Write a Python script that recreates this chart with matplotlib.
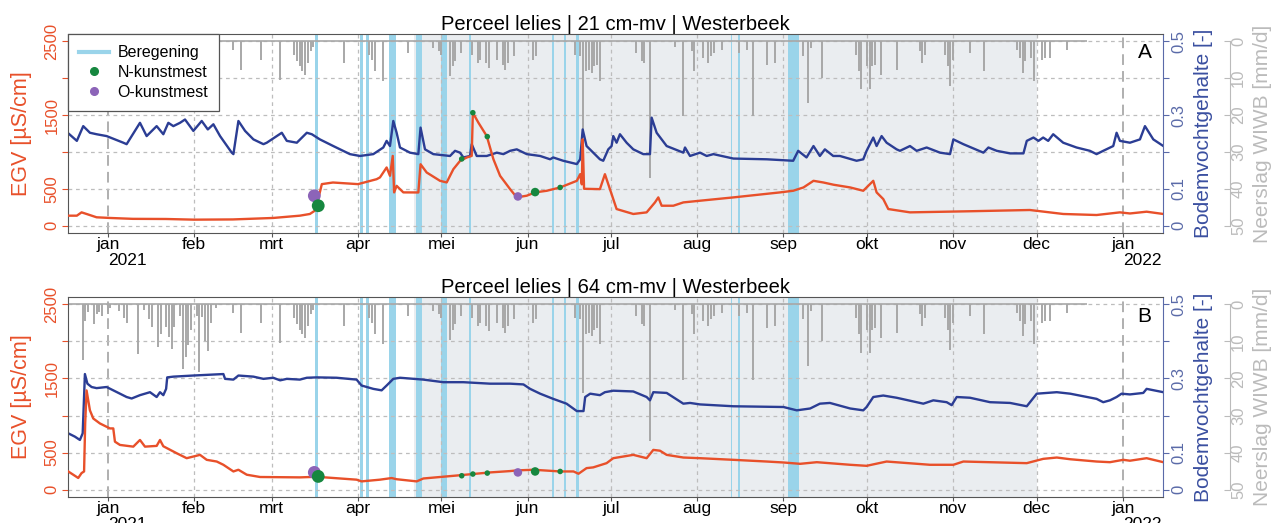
import numpy as np
import matplotlib
matplotlib.use('Agg')
import matplotlib.pyplot as plt
import matplotlib.dates as mdates
from matplotlib.lines import Line2D

plt.rcParams['font.family'] = ['Liberation Sans', 'DejaVu Sans']

# ── colours ───────────────────────────────────────────────
RED    = '#E8502A'
BLUE   = '#2B3D94'
IRR    = '#9AD4EA'
SEASON = '#EAEDF0'
RAIN   = '#A8A8A8'
GREEN  = '#16873F'
PURPLE = '#8C64B8'

# days counted from 2021-01-01
BASE = mdates.date2num(np.datetime64('2021-01-01'))
X_FROM, X_TO = -14.3, 379.5

MONTHS = np.arange('2021-01', '2022-02', dtype='datetime64[M]')
MONTH_NAMES = ['jan', 'feb', 'mrt', 'apr', 'mei', 'jun', 'jul', 'aug',
               'sep', 'okt', 'nov', 'dec', 'jan']

# growing season (shaded) and irrigation events (Beregening)
season_start, season_end = 110.3, 334.0
irr_start = [74.7, 90.9, 93.0, 101.3, 110.9, 120.0, 129.9, 159.8, 164.0, 168.5, 224.0, 226.7, 244.7]
irr_end   = [75.5, 91.7, 93.8, 103.7, 112.9, 121.9, 130.7, 160.6, 164.8, 169.3, 224.6, 227.5, 248.6]

# fertiliser applications
n_days = [75.7, 127.3, 131.3, 136.5, 153.7, 162.7]
n_size = [85, 16, 16, 16, 38, 16]
o_days = [74.3, 147.5]
o_size = [85, 38]

# daily precipitation WIWB [mm/d]
rain_days = [-9, -8, -7, -5, -4, -3, -2, 0, 1, 4, 6, 7, 11, 13, 15, 16, 18, 19, 21, 22,
             23, 24, 26, 27, 28, 29, 30, 32, 33, 34, 35, 36, 37, 39, 45, 48, 55, 62, 67, 68,
             69, 70, 71, 72, 73, 74, 85, 94, 95, 96, 99, 108, 117, 119, 120, 123, 124, 125, 127, 131,
             133, 134, 136, 137, 140, 142, 143, 144, 146, 153, 154, 168, 170, 171, 172, 173, 174, 175, 176, 177,
             190, 192, 193, 195, 204, 207, 210, 211, 214, 216, 217, 218, 221, 227, 230, 232, 237, 240, 250, 252,
             253, 257, 269, 270, 271, 273, 274, 275, 276, 278, 284, 292, 293, 294, 301, 302, 303, 304, 310, 315,
             327, 328, 329, 330, 332, 333, 336, 337, 339, 345]
rain_mm = [15.0, 4.5, 2.0, 5.4, 2.5, 2.0, 3.0, 2.7, 1.0, 1.8, 3.6, 5.0, 13.4, 1.5, 4.0, 6.0, 11.6, 8.0, 6.0, 8.9,
           12.0, 6.0, 3.0, 17.4, 14.3, 11.0, 7.0, 3.0, 18.3, 3.5, 9.8, 12.5, 5.0, 1.0, 2.3, 7.7, 5.0, 10.4, 3.6, 5.4,
           6.8, 8.1, 9.0, 5.9, 2.7, 1.4, 5.9, 3.6, 5.0, 8.1, 10.8, 3.2, 1.8, 2.7, 3.6, 9.5, 6.8, 5.4, 3.2, 3.6,
           5.9, 5.0, 5.9, 7.2, 5.0, 6.3, 7.7, 5.9, 4.0, 5.0, 4.0, 3.6, 4.0, 24.0, 8.0, 7.7, 8.6, 6.8, 6.3, 10.8,
           3.2, 5.4, 5.9, 37.0, 1.4, 20.3, 2.7, 8.1, 4.5, 5.9, 4.0, 3.2, 2.3, 3.2, 2.3, 20.3, 6.3, 5.9, 4.0, 16.7,
           1.8, 9.9, 3.6, 8.1, 13.0, 6.8, 13.0, 6.8, 6.3, 9.0, 7.7, 2.7, 5.9, 3.6, 3.6, 6.8, 12.2, 5.0, 3.2, 8.1,
           2.3, 4.5, 8.6, 5.4, 4.5, 10.8, 5.0, 4.5, 4.5, 2.3]
rain_end = 352

# ── panel A: 21 cm-mv ─────────────────────────────────────
a_egv_days = [-14.4, -11.1, -9.4, -7.6, -4.0, 0.8, 9, 21, 31, 45, 59.5, 69.1, 72.7, 74.5, 75.7, 77, 81, 90,
              96.7, 97.9, 100.3, 101.5, 102.5, 103, 103.9, 106.3, 111.7, 112.5, 114.7, 119.5, 121.9, 124.3,
              126.7, 129.1, 130.9, 131.3, 133.3, 136.3, 138.7, 141.1, 144.7, 147.1, 150.7, 153.7, 157.9,
              162.7, 168.7, 169.9, 170.5, 170.8, 171.3, 177, 178.8, 180.6, 183, 189, 193.8, 196.8, 198,
              199.2, 203.4, 207, 213, 225, 241.8, 246.5, 250.2, 253.8, 257.4, 261, 267, 271.7, 274.1,
              275.3, 276.5, 278.9, 280.7, 288.5, 310, 331.6, 343.6, 355.6, 364, 367.6, 373.6, 379.6]
a_egv = [135, 135, 180, 158, 113, 104, 92, 90, 81, 84, 104, 135, 158, 203, 360, 563, 585, 563,
         630, 654, 789, 676, 946, 451, 540, 451, 450, 833, 721, 608, 586, 766,
         878, 924, 946, 1532, 1397, 1216, 901, 676, 495, 383, 406, 451, 473,
         518, 608, 698, 560, 1171, 500, 495, 698, 495, 225, 158, 180, 315, 383,
         270, 270, 315, 338, 383, 451, 473, 518, 608, 585, 555, 518, 473, 563,
         608, 451, 360, 225, 180, 195, 212, 158, 144, 180, 165, 189, 158]

a_th_days = [-14.4, -11.1, -8.8, -6.4, -4.0, -0.4, 5.6, 6.8, 11.6, 14.0, 17.6, 20.0, 21.8, 23.6, 26.0,
             27.8, 30.8, 33.8, 36.0, 38.0, 40.4, 44.6, 45.2, 47.0, 49.4, 52.4, 56.0, 57.2, 62.6, 64.4,
             68.0, 71.6, 73.4, 76.3, 81.1, 87.1, 90.7, 95.5, 97.3, 99.1, 100.3, 101.5, 102.7, 103.9,
             105.1, 108.7, 111.7, 112.5, 114.1, 117.1, 123.1, 124.9, 126.7, 127.9, 130.3, 130.9, 132.7,
             136.3, 139.9, 142.3, 144.7, 147.1, 150.7, 155.5, 159.1, 160.2, 163.8, 168.7, 169.9, 170.8,
             172.2, 174.6, 177, 178.2, 180, 181.2, 181.8, 183, 184.2, 186.6, 189, 192.6, 195, 195.6,
             197.4, 201, 207, 207.6, 209.4, 213, 215.4, 217.8, 225, 237, 246.5, 248.3, 251.3, 253.8,
             256.1, 257.9, 260.9, 263.3, 269.3, 271.7, 272.9, 275.3, 276.5, 278.3, 280.1, 283.7, 284.9,
             288.5, 290.9, 294.5, 299.3, 302.9, 304.1, 307.7, 314.9, 316.7, 319.7, 324.5, 329.3, 330.5,
             332.9, 334.7, 336.4, 338.2, 340, 343.6, 348.4, 353.2, 355.6, 358, 361.6, 362.8, 364, 367.6,
             371.2, 373, 376, 379.6]
a_th = [0.252, 0.230, 0.270, 0.252, 0.248, 0.243, 0.225, 0.221, 0.279, 0.243, 0.270, 0.248, 0.279, 0.270, 0.279,
        0.288, 0.257, 0.284, 0.261, 0.275, 0.243, 0.198, 0.194, 0.284, 0.257, 0.234, 0.221, 0.225, 0.252, 0.230,
        0.225, 0.252, 0.248, 0.234, 0.216, 0.194, 0.189, 0.194, 0.203, 0.212, 0.230, 0.216, 0.284, 0.252,
        0.212, 0.198, 0.194, 0.266, 0.207, 0.194, 0.189, 0.203, 0.198, 0.185, 0.189, 0.221, 0.189,
        0.189, 0.198, 0.194, 0.203, 0.207, 0.194, 0.189, 0.180, 0.185, 0.176, 0.167, 0.180, 0.261,
        0.216, 0.198, 0.180, 0.176, 0.207, 0.216, 0.243, 0.225, 0.248, 0.225, 0.207, 0.194, 0.194, 0.293,
        0.252, 0.216, 0.198, 0.212, 0.189, 0.198, 0.189, 0.194, 0.182, 0.180, 0.176, 0.203, 0.185, 0.216,
        0.189, 0.207, 0.189, 0.189, 0.176, 0.180, 0.203, 0.239, 0.216, 0.243, 0.225, 0.207, 0.203,
        0.216, 0.203, 0.212, 0.198, 0.194, 0.234, 0.221, 0.198, 0.212, 0.203, 0.196, 0.196, 0.230,
        0.239, 0.230, 0.239, 0.230, 0.248, 0.225, 0.212, 0.203, 0.194, 0.203, 0.216, 0.252, 0.230, 0.225,
        0.234, 0.270, 0.234, 0.216]

a_n_egv = [270, 905, 1532, 1208, 455, 518]
a_o_egv = [405, 396]

# ── panel B: 64 cm-mv ─────────────────────────────────────
b_egv_days = [-14.2, -12.4, -10.6, -9.4, -8.5, -8.1, -7.6, -6.4, -5.2, -2.8, 0.8, 2.0, 2.6, 4.4, 9.2, 11.6,
              13.4, 17.6, 18.8, 20, 24.8, 28.4, 33.2, 35.6, 39.2, 41.6, 45.2, 47, 50, 54.8, 69.1, 75.2,
              89.5, 91.3, 97.9, 102.1, 103.9, 111.1, 113.5, 125.5, 137.5, 144.7, 147.1, 153.1, 162.7,
              167.5, 169.3, 172.2, 174.6, 179.4, 181.8, 189, 193.8, 196.2, 198.6, 201, 207, 213, 225,
              237, 243, 249, 255, 267, 272.9, 280.1, 295.7, 304.1, 307.7, 330.5, 336.4, 341.3, 346.1,
              355.6, 360.4, 365.2, 367.6, 373.6, 379.6]
b_egv = [245, 201, 157, 223, 245, 893, 1339, 1071, 960, 893, 826, 826, 647, 603, 580, 670,
         580, 590, 670, 585, 491, 424, 469, 402, 379, 335, 245, 268, 201, 170, 165, 173,
         134, 111, 134, 156, 140, 111, 150, 190, 232, 250, 259, 268, 245,
         245, 214, 290, 300, 357, 424, 469, 424, 536, 525, 469, 433, 424, 402,
         379, 366, 348, 370, 335, 321, 379, 335, 335, 379, 357, 415, 433, 410,
         379, 370, 402, 390, 424, 370]

b_th_days = [-14.2, -11.8, -10, -9, -8.2, -7.3, -5.8, -4, -0.4, 2, 6.8, 8.6, 11.6, 15.2, 17.6, 18.8, 20,
             21, 21.4, 23.6, 30.8, 41.6, 42.2, 45.2, 47, 52.4, 56, 59.5, 62, 64.4, 69.1, 71.6, 75.2,
             82.3, 89.5, 91.3, 95.5, 98.5, 100.3, 102.7, 105.1, 113.5, 120.7, 127.9, 137.5, 144.7,
             149.5, 151.9, 155.5, 160.2, 165, 168.7, 171.1, 171.7, 173.5, 177, 178.8, 181.8, 189,
             193.8, 195, 196.2, 201, 207, 209.4, 213, 225, 243, 247.8, 252.6, 256.1, 259.7, 267,
             271.7, 272.9, 275.3, 278.9, 283.7, 293.3, 296.9, 301.7, 303.5, 305.3, 310.1, 317.3,
             324.5, 330.5, 334.1, 341.3, 346.1, 355.6, 358, 360.4, 362.8, 364.6, 367.6, 372.4, 373.6, 379.6]
b_th = [0.152, 0.143, 0.134, 0.152, 0.312, 0.286, 0.277, 0.274, 0.277, 0.268, 0.250, 0.246, 0.255, 0.263, 0.250, 0.263, 0.255,
        0.272, 0.303, 0.305, 0.308, 0.312, 0.299, 0.297, 0.308, 0.305, 0.299, 0.302, 0.295, 0.299, 0.297, 0.302, 0.303,
        0.302, 0.297, 0.281, 0.272, 0.268, 0.281, 0.299, 0.302, 0.297, 0.290, 0.290, 0.286, 0.286,
        0.284, 0.272, 0.259, 0.245, 0.232, 0.212, 0.212, 0.250, 0.259, 0.255, 0.263, 0.267, 0.265,
        0.250, 0.241, 0.263, 0.261, 0.232, 0.234, 0.230, 0.225, 0.223, 0.214, 0.219, 0.232, 0.234, 0.219,
        0.214, 0.223, 0.250, 0.254, 0.248, 0.232, 0.241, 0.236, 0.228, 0.250, 0.248, 0.236,
        0.234, 0.225, 0.259, 0.263, 0.259, 0.245, 0.236, 0.241, 0.250, 0.259, 0.257, 0.261, 0.272, 0.263]

b_n_egv = [178, 187, 210, 223, 245, 245]
b_o_egv = [232, 232]


def day2x(days):
    return BASE + np.asarray(days, dtype=float)


def draw_panel(fig, rect, title, tag, egv_days, egv, th_days, th, n_egv, o_egv,
               rain_from, legend=False):
    ax = fig.add_axes(rect)
    ax_th = ax.twinx()
    ax_p = ax.twinx()

    # background axis (rain, season, irrigation, grid) at the bottom
    ax_p.set_zorder(1)
    ax_th.set_zorder(2)
    ax.set_zorder(3)
    ax.patch.set_visible(False)
    ax_p.patch.set_visible(True)
    ax_p.patch.set_facecolor('white')

    ax.set_xlim(day2x([X_FROM, X_TO]))
    ax.set_ylim(-100, 2600)
    ax_th.set_ylim(-0.02, 0.52)
    ax_p.set_ylim(52, -2)

    ax_p.axvspan(*day2x([season_start, season_end]), color=SEASON, lw=0, zorder=0)
    for s, e in zip(irr_start, irr_end):
        ax_p.axvspan(*day2x([s, e]), color=IRR, lw=0, zorder=1)

    month_x = mdates.date2num(MONTHS.astype('datetime64[D]'))
    for i, mx in enumerate(month_x):
        if MONTH_NAMES[i] == 'jan':
            ax_p.axvline(mx, color='#9A9A9A', lw=1.1, ls=(0, (7, 4)), zorder=2)
        else:
            ax_p.axvline(mx, color='#BDBDBD', lw=0.9, ls=(0, (3, 3)), zorder=2)
    for g in range(0, 60, 10):
        ax_p.axhline(g, color='#BDBDBD', lw=0.9, ls=(0, (3, 3)), zorder=2)

    # precipitation hanging down from the top
    rd = np.asarray(rain_days)
    rm = np.asarray(rain_mm)
    keep = rd >= rain_from
    ax_p.vlines(day2x(rd[keep]), 0, rm[keep], color=RAIN, lw=1.4, zorder=3)
    ax_p.hlines(0, *day2x([max(rain_from - 0.5, X_FROM), rain_end]), color=RAIN, lw=1.2, zorder=3)

    ax_th.plot(day2x(th_days), th, color=BLUE, lw=1.7, zorder=4)
    ax.plot(day2x(egv_days), egv, color=RED, lw=1.7, zorder=4)

    ax.scatter(day2x(o_days), o_egv, s=o_size, color=PURPLE, lw=0, zorder=5)
    ax.scatter(day2x(n_days), n_egv, s=n_size, color=GREEN, lw=0, zorder=6)

    # spines
    for side in ['left', 'top', 'bottom']:
        ax.spines[side].set_color('#555555')
    ax.spines['right'].set_visible(False)
    for side in ['left', 'top', 'bottom']:
        ax_th.spines[side].set_visible(False)
        ax_p.spines[side].set_visible(False)
    ax_th.spines['right'].set_color('#5A6AA8')
    ax_p.spines['right'].set_position(('outward', 48))
    ax_p.spines['right'].set_bounds(0, 50)
    ax_p.spines['right'].set_color('#BBBBBB')

    # x axis
    ax.set_xticks(month_x)
    ax.set_xticklabels(MONTH_NAMES, fontsize=12.5)
    ax.tick_params(axis='x', length=3, color='#555555', pad=0)
    for yr, mx in zip(['2021', '2022'], [month_x[0], month_x[-1]]):
        ax.annotate(yr, xy=(mx + 7, 0), xycoords=('data', 'axes fraction'),
                    xytext=(0, -20), textcoords='offset points',
                    ha='center', va='center', fontsize=12.5)

    # EGV axis
    ax.set_yticks([0, 500, 1000, 1500, 2000, 2500])
    ax.set_yticklabels(['0', '500', '', '1500', '', '2500'], rotation=90, va='center',
                       fontsize=12, color=RED)
    ax.tick_params(axis='y', colors=RED, length=4, pad=2)
    ax.set_ylabel('EGV [µS/cm]', color=RED, fontsize=15.5)
    ax.yaxis.set_label_coords(-0.033, 0.5)

    # soil moisture axis
    ax_th.set_yticks([0, 0.1, 0.2, 0.3, 0.4, 0.5])
    ax_th.set_yticklabels(['0', '0.1', '', '0.3', '', '0.5'], rotation=90, va='center',
                          fontsize=12, color='#3A4FA0')
    ax_th.tick_params(axis='y', colors='#5A6AA8', length=4, pad=2)
    ax_th.set_ylabel('Bodemvochtgehalte [-]', color='#3A4FA0', fontsize=15)
    ax_th.yaxis.set_label_coords(1.028, 0.5)

    # precipitation axis
    ax_p.set_yticks([0, 10, 20, 30, 40, 50])
    ax_p.set_yticklabels(['0', '10', '20', '30', '40', '50'], rotation=90, va='center',
                         fontsize=12, color='#BBBBBB')
    ax_p.tick_params(axis='y', colors='#BBBBBB', length=4, pad=1, direction='in')
    ax_p.set_ylabel('Neerslag WIWB [mm/d]', color='#BBBBBB', fontsize=15)
    ax_p.yaxis.set_label_coords(1.082, 0.5)
    ax_p.tick_params(axis='x', bottom=False, labelbottom=False)
    ax_th.tick_params(axis='x', bottom=False, labelbottom=False)

    ax.set_title(title, fontsize=14.5, pad=2)
    ax.text(0.983, 0.905, tag, transform=ax.transAxes, ha='center', va='center', fontsize=15)

    if legend:
        handles = [Line2D([], [], color=IRR, lw=3),
                   Line2D([], [], ls='none', marker='o', color=GREEN, markersize=5.5),
                   Line2D([], [], ls='none', marker='o', color=PURPLE, markersize=5.5)]
        leg = ax.legend(handles, ['Beregening', 'N-kunstmest', 'O-kunstmest'],
                        loc='upper left', borderaxespad=0, fancybox=False, framealpha=1,
                        edgecolor='#555555', fontsize=11.5, handlelength=1.9,
                        labelspacing=0.3, borderpad=0.7, handletextpad=0.5)
        leg.get_frame().set_linewidth(0.9)
    return ax


fig = plt.figure(figsize=(12.82, 5.23), dpi=100)
draw_panel(fig, [0.053, 0.5545, 0.8542, 0.3805], 'Perceel lelies | 21 cm-mv | Westerbeek', 'A',
           a_egv_days, a_egv, a_th_days, a_th, a_n_egv, a_o_egv, rain_from=38, legend=True)
draw_panel(fig, [0.053, 0.0497, 0.8542, 0.3824], 'Perceel lelies | 64 cm-mv | Westerbeek', 'B',
           b_egv_days, b_egv, b_th_days, b_th, b_n_egv, b_o_egv, rain_from=-14)
fig.savefig('out.png', dpi=100)
